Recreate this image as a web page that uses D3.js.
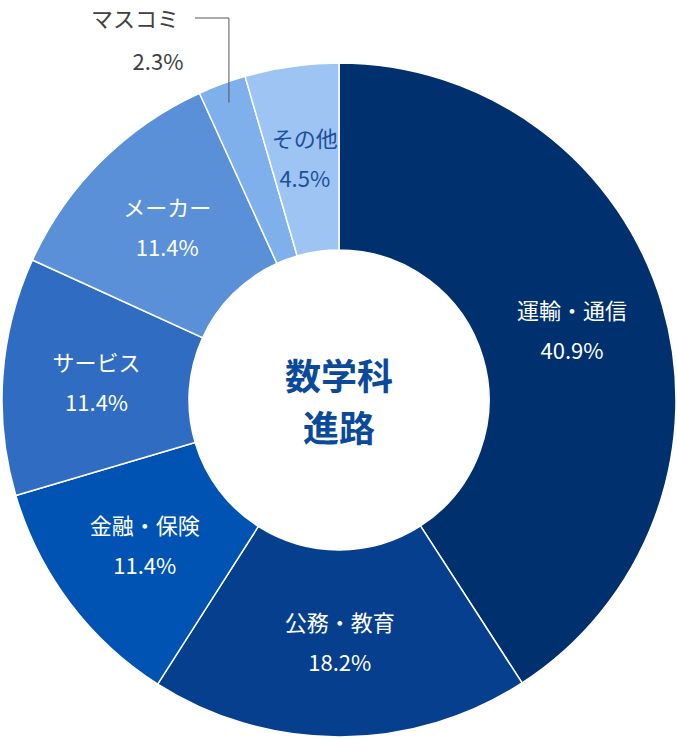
<!DOCTYPE html>
<html><head><meta charset="utf-8">
<script src="https://cdn.jsdelivr.net/npm/d3@7"></script>
<style>body{margin:0;background:#fff}text{font-family:"Noto Sans CJK JP","Noto Sans",sans-serif}</style>
</head><body><svg id="c" width="677" height="739"></svg>
<script>
var categories = ["運輸・通信", "公務・教育", "金融・保険", "サービス", "メーカー", "マスコミ", "その他"];
var values = [40.9, 18.2, 11.4, 11.4, 11.4, 2.3, 4.5];
var colors = ["#00306e", "#053f8e", "#0053b3", "#2f6cc2", "#5990d8", "#7fb0eb", "#9dc4f3"];
var labelColors = ["#fff", "#fff", "#fff", "#fff", "#fff", null, "#1f4e99"];

var cx = 339, cy = 400, R = 337, r = 150;
var svg = d3.select("#c");
var g = svg.append("g").attr("transform", "translate(" + cx + "," + cy + ")");
var pie = d3.pie().sort(null).value(function(d) { return d; });
var arcs = pie(values);
var arc = d3.arc().innerRadius(r).outerRadius(R);
var labelArc = d3.arc().innerRadius(243).outerRadius(243);

g.selectAll("path").data(arcs).enter().append("path")
    .attr("d", arc)
    .attr("fill", function(d, i) { return colors[i]; })
    .attr("stroke", "#fff").attr("stroke-width", 1.5);

arcs.forEach(function(d, i) {
    var c = labelArc.centroid(d);
    if (!labelColors[i]) return;
    var t = g.append("text").attr("text-anchor", "middle").attr("fill", labelColors[i]).attr("font-size", 22);
    t.append("tspan").attr("x", c[0]).attr("y", c[1] - 12).text(categories[i]);
    t.append("tspan").attr("x", c[0]).attr("y", c[1] + 28).text(values[i].toFixed(1) + "%");
});

// マスコミ outside label with leader line
var m = arcs[5];
var mid = (m.startAngle + m.endAngle) / 2;
var px = Math.sin(mid) * (R - 20), py = -Math.cos(mid) * (R - 20);
g.append("polyline")
    .attr("points", [[px, py], [px, 18 - cy], [195 - cx, 18 - cy]].map(function(p) { return p.join(","); }).join(" "))
    .attr("fill", "none").attr("stroke", "#555").attr("stroke-width", 1);
var mt = svg.append("text").attr("text-anchor", "middle").attr("fill", "#404040").attr("font-size", 22);
mt.append("tspan").attr("x", 135).attr("y", 27).text(categories[5]);
mt.append("tspan").attr("x", 158).attr("y", 70).text(values[5].toFixed(1) + "%");

var ct = svg.append("text").attr("text-anchor", "middle").attr("fill", "#0b4a9a")
    .attr("font-size", 36).attr("font-weight", "bold");
ct.append("tspan").attr("x", cx).attr("y", 390).text("数学科");
ct.append("tspan").attr("x", cx).attr("y", 442).text("進路");
</script></body></html>
